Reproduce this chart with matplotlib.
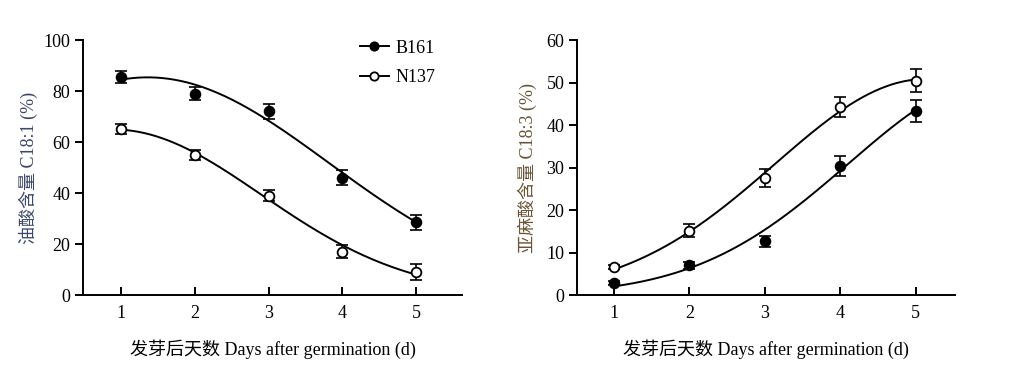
#import library
import matplotlib
matplotlib.use("Agg")
import matplotlib.pyplot as plt
import numpy as np

plt.rcParams['font.family'] = ['Liberation Serif', 'Noto Sans CJK SC']
plt.rcParams['font.size'] = 13

#define datasets
days = [1, 2, 3, 4, 5]

# oleic acid C18:1 (%)
b161_c181 = [85.5, 79.0, 72.0, 46.0, 28.5]
b161_c181_err = [2.5, 2.5, 3.0, 3.0, 3.0]
n137_c181 = [65.0, 55.0, 39.0, 17.0, 9.0]
n137_c181_err = [2.0, 2.0, 2.0, 2.5, 3.0]

# linolenic acid C18:3 (%)
b161_c183 = [2.8, 7.0, 12.7, 30.4, 43.3]
b161_c183_err = [0.4, 0.8, 1.3, 2.3, 2.7]
n137_c183 = [6.6, 15.1, 27.5, 44.2, 50.4]
n137_c183_err = [0.5, 1.5, 2.2, 2.3, 2.7]


def gauss_fit(x, y):
    # gaussian fit through a weighted quadratic in log space
    x = np.asarray(x, float)
    y = np.asarray(y, float)
    coef = np.polyfit(x, np.log(y), 2, w=y)
    xs = np.linspace(x.min(), x.max(), 200)
    return xs, np.exp(np.polyval(coef, xs))


def draw_panel(ax, s1, e1, s2, e2):
    for vals, err, face, lab in [(s1, e1, "black", "B161"), (s2, e2, "white", "N137")]:
        xs, ys = gauss_fit(days, vals)
        ax.plot(xs, ys, color="black", lw=1.4, zorder=2)
        ax.errorbar(days, vals, yerr=err, fmt="none", ecolor="black",
                    elinewidth=1.2, capsize=4, capthick=1.2, zorder=3)
        ax.plot(days, vals, "o", ms=7, mfc=face, mec="black", mew=1.3, zorder=4)
        # legend handle
        ax.plot([], [], "-o", color="black", ms=6, mfc=face, mec="black",
                mew=1.3, lw=1.4, label=lab)
    for side in ["top", "right"]:
        ax.spines[side].set_visible(False)
    ax.spines["left"].set_linewidth(1.4)
    ax.spines["bottom"].set_linewidth(1.4)
    ax.set_xticks(days)
    ax.tick_params(axis="x", direction="in", length=6, width=1.4, pad=7)
    ax.tick_params(axis="y", direction="out", length=6, width=1.4, pad=3)
    ax.set_xlabel("发芽后天数 Days after germination (d)", labelpad=13)


fig = plt.figure(figsize=(10.27, 3.76), dpi=100)
ax1 = fig.add_axes([0.0808, 0.2154, 0.369, 0.6782])
ax2 = fig.add_axes([0.5618, 0.2154, 0.368, 0.6782])

draw_panel(ax1, b161_c181, b161_c181_err, n137_c181, n137_c181_err)
ax1.set_xlim(0.485, 5.62)
ax1.set_ylim(0, 100)
ax1.set_yticks([0, 20, 40, 60, 80, 100])
ax1.set_ylabel("油酸含量 C18:1 (%)", color="#3c4668", labelpad=4)
ax1.legend(loc="upper right", frameon=False, handlelength=1.6,
           handletextpad=0.4, labelspacing=0.7, borderaxespad=0.0,
           bbox_to_anchor=(0.95, 1.03))

draw_panel(ax2, b161_c183, b161_c183_err, n137_c183, n137_c183_err)
ax2.set_xlim(0.51, 5.52)
ax2.set_ylim(0, 60)
ax2.set_yticks([0, 10, 20, 30, 40, 50, 60])
ax2.set_ylabel("亚麻酸含量 C18:3 (%)", color="#6a5438", labelpad=7)

fig.savefig("out.png", dpi=100)
